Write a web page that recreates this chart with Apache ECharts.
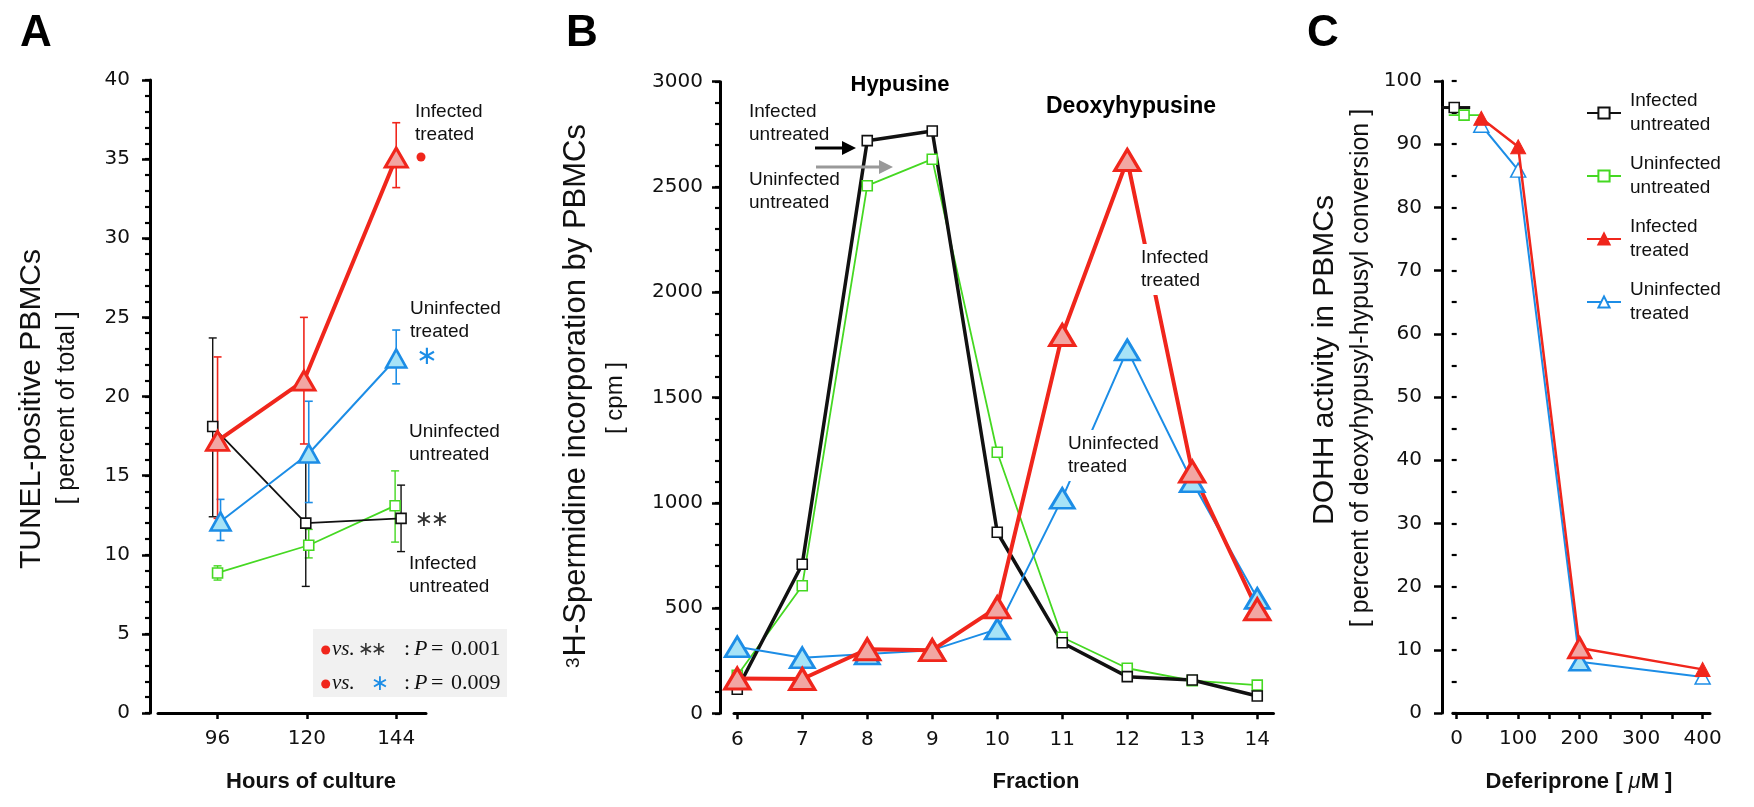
<!DOCTYPE html>
<html><head><meta charset="utf-8">
<script src="https://cdn.jsdelivr.net/npm/echarts@6.0.0/dist/echarts.min.js"></script>
<style>html,body{margin:0;padding:0;background:#fff}#c{width:1754px;height:807px}</style>
</head><body><div id="c"></div>
<script>
// ---------- Panel A : TUNEL-positive PBMCs ----------
const aXTicks = [96, 120, 144];
const aInfTrtX = [96, 119.2, 144];
const aInfTrt = [17.2, 21.0, 35.1];
const aInfTrtLo = [12.3, 17.0, 33.2];
const aInfTrtHi = [22.5, 25.0, 37.3];
const aUninfTrtX = [96.8, 120.5, 144];
const aUninfTrt = [12.1, 16.4, 22.4];
const aUninfTrtLo = [10.9, 13.3, 20.8];
const aUninfTrtHi = [13.5, 19.7, 24.2];
const aInfUntX = [94.7, 119.7, 145.3];
const aInfUnt = [18.1, 12.0, 12.3];
const aInfUntLo = [12.4, 8.0, 10.2];
const aInfUntHi = [23.7, 16.0, 14.4];
const aUninfUntX = [96, 120.5, 143.7];
const aUninfUnt = [8.85, 10.6, 13.1];
const aUninfUntLo = [8.4, 9.8, 10.8];
const aUninfUntHi = [9.3, 11.6, 15.3];

// ---------- Panel B : 3H-spermidine incorporation ----------
const bFractions = [6, 7, 8, 9, 10, 11, 12, 13, 14];
const bInfUnt = [114, 708, 2720, 2766, 860, 335, 174, 158, 82];
const bUninfUnt = [180, 606, 2506, 2632, 1240, 361, 214, 155, 134];
const bInfTrt = [165, 163, 304, 300, 503, 1797, 2628, 1148, 494];
const bUninfTrt = [316, 264, 282, 300, 400, 1021, 1726, 1100, 546];

// ---------- Panel C : DOHH activity ----------
const cXTicks = [0, 100, 200, 300, 400];
const cXMinorTicks = [0, 50, 100, 150, 200, 250, 300, 350, 400];
const cInfUntX = [-4];
const cInfUnt = [95.8];
const cInfUntBar = [-25, 22];
const cUninfUntX = [12];
const cUninfUnt = [94.6];
const cUninfUntBar = [-13, 37];
const cDose = [40, 100, 200, 400];
const cInfTrt = [94.1, 89.6, 10.3, 6.9];
const cUninfTrt = [93.0, 85.9, 8.1, 5.7];

const RED = '#f0261c', PINK = '#f2a6a3', BLUE = '#1c8de6', LBLUE = '#a6e3f7', GREEN = '#45d822', BLACK = '#111';
const SANS = "'Liberation Sans', Arial, sans-serif";
const SERIF = "'Liberation Serif', 'Times New Roman', serif";
const TICKF = "'DejaVu Sans', sans-serif";

function vErr(color, width, cap) {
  return function (params, api) {
    const x = api.value(0), a = api.coord([x, api.value(1)]), b = api.coord([x, api.value(2)]);
    const st = { stroke: color, lineWidth: width };
    return { type: 'group', children: [
      { type: 'line', shape: { x1: a[0], y1: a[1], x2: b[0], y2: b[1] }, style: st },
      { type: 'line', shape: { x1: a[0] - cap, y1: a[1], x2: a[0] + cap, y2: a[1] }, style: st },
      { type: 'line', shape: { x1: b[0] - cap, y1: b[1], x2: b[0] + cap, y2: b[1] }, style: st }
    ] };
  };
}
function hBar(color, width) {
  return function (params, api) {
    const a = api.coord([api.value(0), api.value(2)]), b = api.coord([api.value(1), api.value(2)]);
    return { type: 'line', shape: { x1: a[0], y1: a[1], x2: b[0], y2: b[1] }, style: { stroke: color, lineWidth: width } };
  };
}
const zip = (xs, ys) => xs.map((x, i) => [x, ys[i]]);
const errData = (xs, lo, hi) => xs.map((x, i) => [x, lo[i], hi[i]]);

const axisLine = { show: true, onZero: false, lineStyle: { color: '#000', width: 3 } };
const tickLab = { fontFamily: TICKF, fontSize: 20, color: '#111', formatter: v => String(v) };

function yAx(grid, max, interval, offset, margin) {
  return { type: 'value', gridIndex: grid, min: 0, max: max, interval: interval, offset: offset,
    axisLine: axisLine, splitLine: { show: false },
    axisTick: { show: true, inside: false, length: 8, lineStyle: { color: '#000', width: 2.5 } },
    axisLabel: Object.assign({ margin: margin }, tickLab) };
}
// second, label-less axis that only carries the minor ticks
function yMinor(grid, max, interval, offset) {
  return { type: 'value', gridIndex: grid, position: 'left', min: 0, max: max, interval: interval, offset: offset,
    axisLine: { show: false }, splitLine: { show: false }, axisLabel: { show: false },
    axisTick: { show: true, inside: false, length: 5, lineStyle: { color: '#000', width: 2.2 } } };
}
function xAx(grid, min, max, ticks, labels) {
  return { type: 'value', gridIndex: grid, min: min, max: max,
    axisLine: axisLine, splitLine: { show: false },
    axisTick: { show: true, inside: false, length: 6, customValues: ticks, lineStyle: { color: '#000', width: 2.5 } },
    axisLabel: Object.assign({ margin: 16, customValues: labels }, tickLab) };
}

function lineS(name, xi, data, o) {
  return Object.assign({ type: 'line', name: name, xAxisIndex: xi, yAxisIndex: xi, data: data,
    showSymbol: true, animation: false, silent: true, z: 3 }, o);
}
function sq(color, lw) {
  return { symbol: 'rect', symbolSize: 10, itemStyle: { color: '#fff', borderColor: color, borderWidth: 1.6 },
    lineStyle: { color: color, width: lw } };
}

const series = [
  // Panel A error bars
  { type: 'custom', xAxisIndex: 0, yAxisIndex: 0, renderItem: vErr(GREEN, 1.4, 4), data: errData(aUninfUntX, aUninfUntLo, aUninfUntHi), encode: { x: 0, y: [1, 2] }, z: 1, silent: true, clip: false },
  { type: 'custom', xAxisIndex: 0, yAxisIndex: 0, renderItem: vErr(BLACK, 1.4, 4), data: errData(aInfUntX, aInfUntLo, aInfUntHi), encode: { x: 0, y: [1, 2] }, z: 1, silent: true, clip: false },
  { type: 'custom', xAxisIndex: 0, yAxisIndex: 0, renderItem: vErr(BLUE, 1.6, 4), data: errData(aUninfTrtX, aUninfTrtLo, aUninfTrtHi), encode: { x: 0, y: [1, 2] }, z: 1, silent: true, clip: false },
  { type: 'custom', xAxisIndex: 0, yAxisIndex: 0, renderItem: vErr(RED, 1.6, 4), data: errData(aInfTrtX, aInfTrtLo, aInfTrtHi), encode: { x: 0, y: [1, 2] }, z: 1, silent: true, clip: false },
  // Panel A lines
  lineS('A Uninfected untreated', 0, zip(aUninfUntX, aUninfUnt), sq(GREEN, 1.8)),
  lineS('A Infected untreated', 0, zip(aInfUntX, aInfUnt), sq(BLACK, 1.8)),
  lineS('A Uninfected treated', 0, zip(aUninfTrtX, aUninfTrt), { symbol: 'triangle', symbolSize: [20, 18], itemStyle: { color: LBLUE, borderColor: BLUE, borderWidth: 2.6 }, lineStyle: { color: BLUE, width: 2 } }),
  lineS('A Infected treated', 0, zip(aInfTrtX, aInfTrt), { symbol: 'triangle', symbolSize: [22, 19], itemStyle: { color: PINK, borderColor: RED, borderWidth: 3 }, lineStyle: { color: RED, width: 4 } }),
  // Panel B lines
  lineS('B Uninfected untreated', 1, zip(bFractions, bUninfUnt), sq(GREEN, 1.8)),
  lineS('B Infected untreated', 1, zip(bFractions, bInfUnt), sq(BLACK, 3.5)),
  lineS('B Uninfected treated', 1, zip(bFractions, bUninfTrt), { symbol: 'triangle', symbolSize: [24, 20], itemStyle: { color: LBLUE, borderColor: BLUE, borderWidth: 2.8 }, lineStyle: { color: BLUE, width: 2 } }),
  lineS('B Infected treated', 1, zip(bFractions, bInfTrt), { symbol: 'triangle', symbolSize: [25, 21], itemStyle: { color: PINK, borderColor: RED, borderWidth: 3.2 }, lineStyle: { color: RED, width: 4 } }),
  // Panel C
  { type: 'custom', xAxisIndex: 2, yAxisIndex: 2, renderItem: hBar(BLACK, 3), data: [[cInfUntBar[0], cInfUntBar[1], cInfUnt[0]]], encode: { x: [0, 1], y: 2 }, z: 1, silent: true, clip: false },
  { type: 'custom', xAxisIndex: 2, yAxisIndex: 2, renderItem: hBar(GREEN, 1.8), data: [[cUninfUntBar[0], cUninfUntBar[1], cUninfUnt[0]]], encode: { x: [0, 1], y: 2 }, z: 1, silent: true, clip: false },
  lineS('Infected\nuntreated', 2, zip(cInfUntX, cInfUnt), { symbol: 'rect', symbolSize: 10, itemStyle: { color: '#fff', borderColor: BLACK, borderWidth: 1.6 }, lineStyle: { color: BLACK, width: 3 } }),
  lineS('Uninfected\nuntreated', 2, zip(cUninfUntX, cUninfUnt), sq(GREEN, 1.8)),
  lineS('Infected\ntreated', 2, cDose.map((d, i) => d === 200
      ? { value: [d, cInfTrt[i]], symbolSize: [22, 20], itemStyle: { color: PINK, borderColor: RED, borderWidth: 3 } }
      : [d, cInfTrt[i]]),
    { symbol: 'triangle', symbolSize: [15, 14], itemStyle: { color: RED, borderColor: RED, borderWidth: 1 }, lineStyle: { color: RED, width: 2.5 }, z: 4 }),
  lineS('Uninfected\ntreated', 2, cDose.map((d, i) => d === 200
      ? { value: [d, cUninfTrt[i]], symbolSize: [20, 17], itemStyle: { color: LBLUE, borderColor: BLUE, borderWidth: 2.6 } }
      : [d, cUninfTrt[i]]),
    { symbol: 'triangle', symbolSize: [15, 14], itemStyle: { color: '#fff', borderColor: BLUE, borderWidth: 1.5 }, lineStyle: { color: BLUE, width: 2 } })
];

function T(x, y, text, o) {
  return { type: 'text', x: x, y: y, z: 100, silent: true,
    style: Object.assign({ text: text, fontFamily: SANS, fontSize: 19, fill: '#111', align: 'left', verticalAlign: 'top', lineHeight: 23.5 }, o || {}) };
}
function R(x, y, text, o) { // rotated, centred
  const g = T(x, y, text, Object.assign({ align: 'center', verticalAlign: 'middle' }, o || {}));
  g.rotation = Math.PI / 2;
  return g;
}
const serifM = (x, y, t, o) => T(x, y, t, Object.assign({ fontFamily: SERIF, fontSize: 22, verticalAlign: 'middle' }, o || {}));
const ast = (x, y, c, s) => T(x, y, '∗', { fontFamily: TICKF, fontSize: s, fill: c, align: 'center', verticalAlign: 'middle' });

const gfx = [
  // panel letters
  T(36, 34, 'A', { fontSize: 44, fontWeight: 'bold', align: 'center', verticalAlign: 'middle', fill: '#000' }),
  T(582, 34, 'B', { fontSize: 44, fontWeight: 'bold', align: 'center', verticalAlign: 'middle', fill: '#000' }),
  T(1323, 34, 'C', { fontSize: 44, fontWeight: 'bold', align: 'center', verticalAlign: 'middle', fill: '#000' }),
  // axis titles
  R(32, 409, 'TUNEL-positive PBMCs', { fontSize: 30 }),
  R(67, 408, '[ percent of total ]', { fontSize: 25 }),
  R(576, 396, '{s|3}H-Spermidine incorporation by PBMCs', { fontSize: 31, rich: { s: { fontSize: 19, verticalAlign: 'top', fontFamily: SANS, fill: '#111', padding: [0, 1, 12, 0] } } }),
  R(615, 398, '[ cpm ]', { fontSize: 24 }),
  R(1325, 360, 'DOHH activity in PBMCs', { fontSize: 30 }),
  R(1361, 368, '[ percent of deoxyhypusyl-hypusyl conversion ]', { fontSize: 25 }),
  T(311, 782, 'Hours of culture', { fontSize: 22, fontWeight: 'bold', align: 'center', verticalAlign: 'middle' }),
  T(1036, 782, 'Fraction', { fontSize: 22, fontWeight: 'bold', align: 'center', verticalAlign: 'middle' }),
  T(1579, 782, '{b|Deferiprone [ }{m|μ}{b|M ]}', { align: 'center', verticalAlign: 'middle',
    rich: { b: { fontSize: 22, fontWeight: 'bold', fontFamily: SANS, fill: '#111' }, m: { fontSize: 22, fontStyle: 'italic', fontFamily: SANS, fill: '#111' } } }),
  // panel A annotations
  T(415, 100, 'Infected\ntreated'),
  { type: 'circle', z: 100, silent: true, shape: { cx: 421, cy: 157, r: 4.5 }, style: { fill: RED } },
  T(410, 297, 'Uninfected\ntreated'),
  ast(427, 357, BLUE, 26),
  T(409, 420, 'Uninfected\nuntreated'),
  ast(424, 520, '#333', 22), ast(440, 520, '#333', 22),
  T(409, 552, 'Infected\nuntreated'),
  // stats box
  { type: 'rect', z: 90, silent: true, shape: { x: 313, y: 629, width: 194, height: 68 }, style: { fill: '#f1f1f1' } },
  { type: 'circle', z: 100, silent: true, shape: { cx: 325.7, cy: 650, r: 4.5 }, style: { fill: RED } },
  { type: 'circle', z: 100, silent: true, shape: { cx: 325.7, cy: 684, r: 4.5 }, style: { fill: RED } },
  serifM(332, 649, 'vs.', { fontStyle: 'italic', fontSize: 21 }),
  ast(366, 650, '#333', 19), ast(379, 650, '#333', 19),
  serifM(404, 649, ':'), serifM(414, 649, 'P', { fontStyle: 'italic' }), serifM(431, 649, '='), serifM(451, 649, '0.001'),
  serifM(332, 683, 'vs.', { fontStyle: 'italic', fontSize: 21 }),
  ast(380, 684, BLUE, 22),
  serifM(404, 683, ':'), serifM(414, 683, 'P', { fontStyle: 'italic' }), serifM(431, 683, '='), serifM(451, 683, '0.009'),
  // panel B annotations
  T(900, 85, 'Hypusine', { fontSize: 22, fontWeight: 'bold', align: 'center', verticalAlign: 'middle', fill: '#000' }),
  T(1131, 107, 'Deoxyhypusine', { fontSize: 23, fontWeight: 'bold', align: 'center', verticalAlign: 'middle', fill: '#000' }),
  T(749, 100, 'Infected\nuntreated'),
  T(749, 168, 'Uninfected\nuntreated'),
  { type: 'line', z: 100, silent: true, shape: { x1: 815, y1: 148, x2: 846, y2: 148 }, style: { stroke: '#000', lineWidth: 3 } },
  { type: 'polygon', z: 100, silent: true, shape: { points: [[842, 141], [856, 148], [842, 155]] }, style: { fill: '#000' } },
  { type: 'line', z: 100, silent: true, shape: { x1: 816, y1: 167, x2: 882, y2: 167 }, style: { stroke: '#999', lineWidth: 3 } },
  { type: 'polygon', z: 100, silent: true, shape: { points: [[879, 160], [893, 167], [879, 174]] }, style: { fill: '#999' } },
  T(1139, 244, 'Infected\ntreated', { backgroundColor: '#fff', padding: [2, 2, 2, 2] }),
  T(1066, 430, 'Uninfected\ntreated', { backgroundColor: '#fff', padding: [2, 2, 2, 2] })
];

const chart = echarts.init(document.getElementById('c'), null, { renderer: 'canvas' });
chart.setOption({
  animation: false,
  backgroundColor: '#fff',
  grid: [
    { left: 158, top: 80, width: 268, height: 633, containLabel: false, outerBoundsMode: 'none' },
    { left: 734, top: 81.7, width: 539.5, height: 631.6, containLabel: false, outerBoundsMode: 'none' },
    { left: 1453, top: 81, width: 257, height: 632, containLabel: false, outerBoundsMode: 'none' }
  ],
  xAxis: [
    xAx(0, 80, 152, aXTicks, aXTicks),
    xAx(1, 5.95, 14.25, bFractions, bFractions),
    xAx(2, -6, 412, cXMinorTicks, cXTicks)
  ],
  yAxis: [
    yAx(0, 40, 5, 8, 20),
    yAx(1, 3000, 500, 14, 17),
    yAx(2, 100, 10, 11, 20),
    yMinor(0, 40, 1, 8),
    yMinor(1, 3000, 100, 14),
    yMinor(2, 100, 5, 11)
  ],
  legend: {
    data: ['Infected\nuntreated', 'Uninfected\nuntreated', 'Infected\ntreated', 'Uninfected\ntreated'],
    orient: 'vertical', left: 1581, top: 84, itemWidth: 34, itemHeight: 14, itemGap: 15,
    selectedMode: false,
    textStyle: { fontFamily: SANS, fontSize: 19, lineHeight: 24, color: '#111', padding: [0, 0, 0, 4] }
  },
  series: series,
  graphic: { elements: gfx }
});
</script></body></html>
